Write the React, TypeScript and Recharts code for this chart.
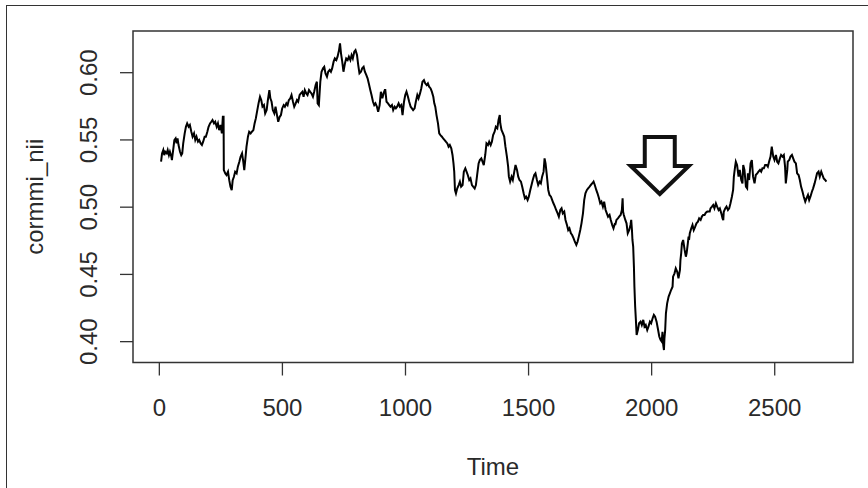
import React from 'react';
import { LineChart, Line, XAxis, YAxis, ReferenceArea, ReferenceDot } from 'recharts';

// [time index, cormmi_nii], segment by segment
const seg1: [number, number][] = [
  [7,.5338],[11,.5400],[16,.5425],[20,.5387],[24,.5412],[30,.5400],[34,.5425],[39,.5387],[43,.5412],[49,.5375],
  [51,.5350],[57,.5437],[61,.5499],[66,.5511],[70,.5474],[74,.5511],[78,.5462],[84,.5412],[89,.5387],[93,.5400],
  [97,.5474],[103,.5549],[108,.5598],[113,.5623],[119,.5598],[124,.5611],[130,.5561],[135,.5524],[141,.5549],[146,.5499],
  [151,.5524],[157,.5487],[162,.5499],[168,.5474],[173,.5462],[178,.5487],[184,.5524],[189,.5524],[195,.5561],[200,.5598],
  [206,.5623],[211,.5635],[216,.5648],[222,.5623],[227,.5635],[233,.5598],[238,.5623],[243,.5573],[249,.5611],[254,.5549],
  [258,.5673],[261,.5673],[262,.5276],[268,.5251],[273,.5239],[279,.5263],[284,.5201],[289,.5152],[294,.5127],[298,.5201],
  [303,.5226],[308,.5263],[314,.5251],[319,.5301],[325,.5338],[330,.5375],[336,.5400],[341,.5338],[345,.5276],[349,.5350],
  [354,.5449],[360,.5524],[365,.5561],[371,.5549],[376,.5561],[382,.5573],[387,.5623],[392,.5660],[398,.5722],[403,.5772],
  [409,.5821],[414,.5797],[419,.5747],[425,.5759],[430,.5697],[436,.5722],[441,.5797],[447,.5871],
];
const seg2: [number, number][] = [
  [451,.5809],[456,.5784],[461,.5722],[467,.5697],[472,.5747],[478,.5685],[483,.5635],[489,.5672],[494,.5685],[499,.5734],
  [505,.5759],[510,.5747],[516,.5772],[521,.5759],[526,.5796],[532,.5809],[537,.5834],[543,.5784],[548,.5747],[554,.5772],
  [559,.5796],[564,.5784],[570,.5834],[575,.5846],[581,.5858],[586,.5821],[591,.5871],[597,.5846],[602,.5834],[608,.5871],
  [613,.5858],[618,.5846],[624,.5821],[629,.5858],[635,.5908],[640,.5933],[643,.5772],[648,.5759],[654,.5933],[659,.6007],
  [665,.6032],[670,.6044],[675,.5995],[681,.5970],[686,.6007],[692,.6020],[697,.6007],[702,.6032],[708,.6082],[713,.6106],
  [719,.6094],[724,.6119],[730,.6168],[734,.6218],[738,.6144],[743,.6082],[748,.6007],[754,.6069],[759,.6106],[765,.6094],
  [770,.6119],[776,.6094],[781,.6131],[786,.6106],[792,.6156],[797,.6168],[803,.6131],[808,.6057],[813,.5995],[819,.6007],
  [824,.6032],[830,.6044],[835,.6007],[841,.5982],[846,.5958],[851,.5920],[857,.5871],[862,.5834],[868,.5784],[873,.5759],
  [878,.5772],[884,.5747],[889,.5710],[895,.5759],[900,.5858],[906,.5809],[911,.5846],[916,.5871],
];
const seg3: [number, number][] = [
  [918,.5871],[923,.5784],[929,.5772],[934,.5759],[939,.5747],[945,.5759],[950,.5722],[956,.5747],[961,.5735],[966,.5747],
  [972,.5772],[977,.5747],[983,.5759],[988,.5685],[994,.5784],[999,.5834],[1004,.5859],[1010,.5821],[1015,.5784],[1021,.5747],
  [1026,.5735],[1031,.5722],[1037,.5735],[1042,.5784],[1048,.5834],[1053,.5809],[1059,.5846],[1064,.5883],[1069,.5933],[1075,.5945],
  [1080,.5921],[1086,.5908],[1091,.5921],[1096,.5896],[1102,.5883],[1107,.5859],[1113,.5821],[1117,.5772],[1121,.5747],[1126,.5685],
  [1132,.5623],[1137,.5549],[1142,.5536],[1148,.5524],[1153,.5511],[1159,.5499],[1164,.5487],[1170,.5474],[1175,.5450],[1180,.5462],
  [1186,.5437],[1191,.5388],[1195,.5326],[1198,.5264],[1201,.5127],[1205,.5102],[1210,.5139],[1216,.5164],[1221,.5189],[1226,.5152],
  [1232,.5164],[1237,.5264],[1243,.5289],[1248,.5264],[1253,.5239],[1259,.5202],[1264,.5214],[1270,.5164],[1275,.5152],[1281,.5139],
  [1286,.5164],[1291,.5239],[1297,.5325],[1302,.5350],[1308,.5363],[1313,.5338],[1318,.5313],[1324,.5388],[1329,.5474],[1335,.5462],
  [1340,.5487],[1346,.5462],[1351,.5487],[1356,.5536],[1362,.5561],[1367,.5598],[1373,.5586],[1378,.5648],[1383,.5685],
];
const seg4: [number, number][] = [
  [1385,.5624],[1390,.5574],[1396,.5549],[1401,.5525],[1406,.5450],[1412,.5376],[1417,.5301],[1420,.5227],[1425,.5190],[1431,.5227],
  [1436,.5202],[1442,.5264],[1447,.5314],[1453,.5277],[1458,.5227],[1463,.5202],[1469,.5190],[1474,.5153],[1480,.5103],[1485,.5066],
  [1490,.5078],[1496,.5053],[1501,.5078],[1507,.5128],[1512,.5165],[1517,.5202],[1523,.5240],[1528,.5252],[1534,.5202],[1539,.5165],
  [1545,.5190],[1550,.5178],[1555,.5227],[1561,.5264],[1565,.5363],[1569,.5326],[1574,.5240],[1580,.5128],[1585,.5091],[1591,.5078],
  [1596,.5053],[1601,.5029],[1607,.5004],[1612,.4979],[1618,.4954],[1623,.4929],[1629,.4979],[1634,.4991],[1639,.4954],[1645,.4967],
  [1650,.4905],[1656,.4867],[1661,.4830],[1666,.4843],[1672,.4805],[1677,.4793],[1683,.4768],[1688,.4743],[1694,.4719],[1699,.4743],
  [1704,.4781],[1710,.4830],[1715,.4880],[1721,.4954],[1726,.5053],[1731,.5103],[1737,.5128],[1742,.5140],[1748,.5153],[1753,.5165],
  [1759,.5178],[1764,.5190],[1769,.5165],[1775,.5128],[1780,.5103],[1786,.5066],[1791,.5029],[1796,.5041],[1802,.5004],[1807,.5041],
  [1813,.4979],[1818,.4954],[1823,.4929],[1829,.4942],[1834,.4905],[1840,.4867],[1845,.4843],[1851,.4880],
];
const seg5: [number, number][] = [
  [1852,.4868],[1857,.4905],[1863,.4917],[1868,.4930],[1874,.4942],[1879,.4979],[1882,.5066],[1884,.4967],[1887,.4942],[1893,.4905],
  [1898,.4880],[1903,.4806],[1909,.4830],[1914,.4868],[1917,.4905],[1920,.4830],[1922,.4756],[1925,.4707],[1928,.4558],[1930,.4409],
  [1933,.4261],[1936,.4162],[1939,.4050],[1944,.4087],[1949,.4137],[1955,.4149],[1960,.4124],[1966,.4162],[1971,.4112],[1976,.4124],
  [1982,.4087],[1987,.4112],[1993,.4149],[1998,.4137],[2004,.4174],[2009,.4199],[2014,.4186],[2020,.4149],[2025,.4100],[2031,.4038],
  [2036,.4013],[2041,.4000],[2044,.4074],[2047,.3975],[2050,.3938],[2052,.4025],[2055,.4087],[2058,.4211],[2063,.4285],[2069,.4335],
  [2074,.4359],[2079,.4384],[2085,.4409],[2087,.4483],[2093,.4508],[2098,.4545],[2104,.4520],[2109,.4471],[2115,.4533],[2117,.4607],
  [2120,.4657],[2123,.4731],[2128,.4756],[2134,.4682],[2139,.4632],[2142,.4657],[2147,.4731],[2150,.4781],[2152,.4756],[2155,.4806],
  [2161,.4843],[2166,.4868],[2171,.4830],[2177,.4855],[2182,.4880],[2188,.4892],[2193,.4917],[2199,.4905],[2204,.4930],[2209,.4942],
  [2215,.4942],[2220,.4959],[2226,.4967],[2231,.4967],[2236,.4967],
];
const seg6: [number, number][] = [
  [2239,.4991],[2245,.5004],[2250,.5016],[2255,.4991],[2261,.5028],[2266,.5004],[2272,.4979],[2277,.4991],[2283,.4954],[2288,.4917],
  [2291,.4904],[2293,.4966],[2299,.4991],[2304,.5004],[2310,.4979],[2315,.4991],[2320,.5028],[2326,.5078],[2331,.5128],[2334,.5227],
  [2339,.5301],[2342,.5338],[2347,.5314],[2353,.5227],[2358,.5277],[2364,.5202],[2369,.5177],[2372,.5314],[2377,.5277],[2383,.5152],
  [2388,.5140],[2391,.5252],[2396,.5202],[2402,.5326],[2407,.5351],[2412,.5227],[2418,.5177],[2423,.5239],[2429,.5252],[2434,.5264],
  [2440,.5277],[2445,.5264],[2450,.5289],[2456,.5289],[2461,.5314],[2467,.5314],[2472,.5301],[2477,.5338],[2483,.5376],[2488,.5450],
  [2494,.5376],[2499,.5351],[2505,.5388],[2510,.5338],[2515,.5326],[2521,.5363],[2526,.5388],[2532,.5376],[2537,.5388],[2542,.5301],
  [2545,.5177],[2551,.5277],[2553,.5338],[2559,.5351],[2564,.5376],[2570,.5388],[2575,.5363],[2580,.5338],[2586,.5326],[2591,.5252],
  [2597,.5239],[2602,.5202],[2607,.5153],[2613,.5115],[2618,.5078],[2624,.5041],[2629,.5066],[2635,.5091],[2640,.5053],[2645,.5078],
  [2651,.5115],[2656,.5140],[2662,.5177],[2667,.5214],[2672,.5252],[2678,.5264],[2683,.5227],[2689,.5264],[2694,.5239],[2699,.5214],
  [2705,.5202],[2710,.5190],
];

const xTicks = [0, 500, 1000, 1500, 2000, 2500];
const yTicks = [0.4, 0.45, 0.5, 0.55, 0.6];
const xDomain: [number, number] = [-107, 2818];
const yDomain: [number, number] = [0.3845, 0.631];
const arrowTip = { t: 2033, v: 0.5098 };
const xTitle = 'Time';
const yTitle = 'cormmi_nii';

const data = [...seg1, ...seg2, ...seg3, ...seg4, ...seg5, ...seg6].map(([t, v]) => ({ t, v }));

const FONT = '"Liberation Sans", Arial, Helvetica, sans-serif';
const TEXT = '#2a2a2a';

const XTick = (props: any) => {
  const { x, y, payload } = props;
  return (
    <text x={x} y={y + 38} textAnchor="middle" fontFamily={FONT} fontSize={24} fill={TEXT}>
      {String(payload.value)}
    </text>
  );
};

const YTick = (props: any) => {
  const { x, y, payload } = props;
  const bx = x - 21;
  return (
    <text x={bx} y={y} textAnchor="middle" fontFamily={FONT} fontSize={24} fill={TEXT}
      transform={`rotate(-90, ${bx}, ${y})`}>
      {Number(payload.value).toFixed(2)}
    </text>
  );
};

const XTitle = (props: any) => {
  const vb = props.viewBox || { x: 133, y: 362.5, width: 720, height: 125.5 };
  return (
    <text x={vb.x + vb.width / 2} y={vb.y + 112} textAnchor="middle" fontFamily={FONT} fontSize={24} fill={TEXT}>
      {xTitle}
    </text>
  );
};

const YTitle = (props: any) => {
  const vb = props.viewBox || { x: 0, y: 31, width: 133, height: 331.5 };
  const cx = vb.x + 43;
  const cy = vb.y + vb.height / 2;
  return (
    <text x={cx} y={cy} textAnchor="middle" fontFamily={FONT} fontSize={24} fill={TEXT}
      transform={`rotate(-90, ${cx}, ${cy})`}>
      {yTitle}
    </text>
  );
};

const Arrow = (props: any) => {
  const { cx, cy } = props;
  const pts = [[0, 0], [29, -28], [15, -28], [15, -57], [-15, -57], [-15, -28], [-29, -28]]
    .map(([dx, dy]) => `${cx + dx},${cy + dy}`)
    .join(' ');
  return <polygon points={pts} fill="#fff" stroke="#111" strokeWidth={4} strokeLinejoin="miter" />;
};

export default function App() {
  return (
    <div style={{ position: 'absolute', left: 0, top: 0, width: 868, height: 488, background: '#fff', overflow: 'hidden' }}>
      <div style={{ position: 'absolute', left: 6, top: 5, width: 900, height: 600, borderLeft: '1.5px solid #333', borderTop: '1.5px solid #333' }} />
      <div style={{ position: 'absolute', left: 0, top: 0 }}>
        <LineChart width={868} height={488} data={data} margin={{ top: 31, right: 15, bottom: 0, left: 0 }}>
          <XAxis
            dataKey="t"
            type="number"
            domain={xDomain}
            ticks={xTicks}
            allowDataOverflow
            height={125.5}
            axisLine={false}
            tickLine={{ stroke: '#333', strokeWidth: 1.3 }}
            tickSize={13}
            tick={<XTick />}
            interval={0}
            label={<XTitle />}
          />
          <YAxis
            type="number"
            domain={yDomain}
            ticks={yTicks}
            allowDataOverflow
            width={133}
            axisLine={false}
            tickLine={{ stroke: '#333', strokeWidth: 1.3 }}
            tickSize={13}
            tick={<YTick />}
            interval={0}
            label={<YTitle />}
          />
          <ReferenceArea
            x1={xDomain[0]}
            x2={xDomain[1]}
            y1={yDomain[0]}
            y2={yDomain[1]}
            fill="none"
            fillOpacity={0}
            stroke="#333"
            strokeWidth={1.5}
            ifOverflow="visible"
          />
          <Line
            type="linear"
            dataKey="v"
            stroke="#000"
            strokeWidth={2}
            dot={false}
            isAnimationActive={false}
          />
          <ReferenceDot x={arrowTip.t} y={arrowTip.v} r={0} shape={<Arrow />} ifOverflow="visible" />
        </LineChart>
      </div>
    </div>
  );
}
